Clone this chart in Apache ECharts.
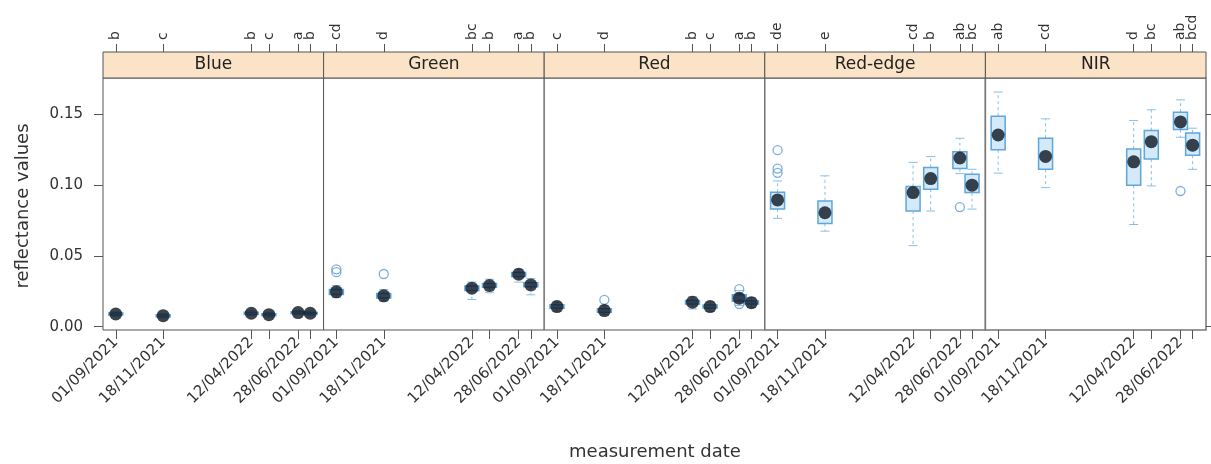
<!DOCTYPE html>
<html>
<head>
<meta charset="utf-8">
<script src="https://cdn.jsdelivr.net/npm/echarts@6/dist/echarts.min.js"></script>
<style>
  html, body { margin: 0; background: #fff; }
  #chart { width: 1211px; height: 464px; }
</style>
</head>
<body>
<div id="chart"></div>
<script>
// spectral bands (one panel each)
const bands = ["Blue", "Green", "Red", "Red-edge", "NIR"];
// measurement dates
const dates = ["2021-09-01", "2021-11-18", "2022-04-12", "2022-05-11", "2022-06-28", "2022-07-18"];
// dates that carry a bottom tick label
const labelledDates = ["2021-09-01", "2021-11-18", "2022-04-12", "2022-06-28"];
const yTicks = [0, 0.05, 0.1, 0.15];

// [lower whisker, Q1, median, Q3, upper whisker] per date
const blueStats = [
  [0.0075, 0.0083, 0.0090, 0.0096, 0.0104],
  [0.0062, 0.0071, 0.0078, 0.0084, 0.0092],
  [0.0078, 0.0088, 0.0095, 0.0102, 0.0112],
  [0.0068, 0.0079, 0.0085, 0.0091, 0.0100],
  [0.0085, 0.0094, 0.0100, 0.0106, 0.0115],
  [0.0080, 0.0089, 0.0095, 0.0101, 0.0110]
];
const greenStats = [
  [0.0205, 0.0228, 0.0246, 0.0262, 0.0290],
  [0.0180, 0.0203, 0.0218, 0.0235, 0.0262],
  [0.0192, 0.0255, 0.0272, 0.0288, 0.0315],
  [0.0240, 0.0278, 0.0290, 0.0305, 0.0335],
  [0.0315, 0.0355, 0.0370, 0.0382, 0.0405],
  [0.0225, 0.0282, 0.0295, 0.0310, 0.0340]
];
const redStats = [
  [0.0110, 0.0130, 0.0142, 0.0155, 0.0175],
  [0.0085, 0.0103, 0.0114, 0.0126, 0.0150],
  [0.0125, 0.0160, 0.0173, 0.0185, 0.0212],
  [0.0108, 0.0132, 0.0142, 0.0153, 0.0175],
  [0.0150, 0.0180, 0.0201, 0.0225, 0.0255],
  [0.0135, 0.0160, 0.0170, 0.0182, 0.0205]
];
const redEdgeStats = [
  [0.0764, 0.0830, 0.0894, 0.0948, 0.1028],
  [0.0674, 0.0728, 0.0804, 0.0887, 0.1064],
  [0.0572, 0.0816, 0.0946, 0.0989, 0.1159],
  [0.0816, 0.0970, 0.1045, 0.1123, 0.1200],
  [0.1080, 0.1116, 0.1190, 0.1234, 0.1329],
  [0.0830, 0.0946, 0.0998, 0.1076, 0.1110]
];
const nirStats = [
  [0.1083, 0.1248, 0.1352, 0.1485, 0.1655],
  [0.0981, 0.1111, 0.1201, 0.1329, 0.1466],
  [0.0721, 0.0998, 0.1163, 0.1253, 0.1454],
  [0.0993, 0.1182, 0.1305, 0.1383, 0.1530],
  [0.1336, 0.1390, 0.1444, 0.1513, 0.1600],
  [0.1110, 0.1210, 0.1280, 0.1366, 0.1400]
];

// outliers: [date index, value]
const blueOutliers = [];
const greenOutliers = [[0, 0.0385], [0, 0.0405], [1, 0.0372]];
const redOutliers = [[1, 0.0190], [4, 0.0265], [4, 0.0160]];
const redEdgeOutliers = [[0, 0.1245], [0, 0.1115], [0, 0.1085], [4, 0.0844]];
const nirOutliers = [[4, 0.0957]];

// significance letters above each date
const blueLetters = ["b", "c", "b", "c", "a", "b"];
const greenLetters = ["cd", "d", "bc", "b", "a", "b"];
const redLetters = ["c", "d", "b", "c", "a", "b"];
const redEdgeLetters = ["de", "e", "cd", "b", "ab", "bc"];
const nirLetters = ["ab", "cd", "d", "bc", "ab", "bcd"];

const stats = [blueStats, greenStats, redStats, redEdgeStats, nirStats];
const outliers = [blueOutliers, greenOutliers, redOutliers, redEdgeOutliers, nirOutliers];
const letters = [blueLetters, greenLetters, redLetters, redEdgeLetters, nirLetters];

// x positions are days since the first measurement date
const DAY = 86400000;
const ts = s => Date.UTC(+s.slice(0, 4), +s.slice(5, 7) - 1, +s.slice(8, 10));
const t0 = ts(dates[0]);
const dayOf = s => Math.round((ts(s) - t0) / DAY);
const pad = n => (n < 10 ? "0" : "") + n;
const fmtDay = v => {
  const d = new Date(t0 + v * DAY);
  return pad(d.getUTCDate()) + "/" + pad(d.getUTCMonth() + 1) + "/" + d.getUTCFullYear();
};
const dateX = dates.map(dayOf);
const labelX = labelledDates.map(dayOf);
const xMin = dayOf("2021-08-11");
const xMax = dayOf("2022-08-09");

const FONT = "DejaVu Sans, Verdana, sans-serif";
const PANEL_L = 103, PANEL_W = 220.6, PANEL_T = 78, PANEL_H = 252, STRIP_H = 26;
const BOX_W = 14, CAP_W = 9;
const boxStroke = "#5ea6dc", boxFill = "#d4eaf8", whiskColor = "#86bfe8";
const tickStyle = { color: "#555" };

const grids = [], xAxes = [], yAxes = [], series = [], graphics = [];

// letters above the strip; split over two axes so close neighbours are not dropped
function letterAxis(i, values, showTicks) {
  return {
    type: "value", gridIndex: i, min: xMin, max: xMax, position: "top", offset: STRIP_H,
    axisLine: { show: false, onZero: false }, splitLine: { show: false },
    axisTick: { show: showTicks, customValues: dateX, length: 8, lineStyle: tickStyle },
    axisLabel: {
      customValues: values, rotate: -90, margin: 12,
      showMinLabel: true, showMaxLabel: true,
      formatter: v => letters[i][dateX.indexOf(v)] || "",
      fontSize: 14, color: "#333", fontFamily: FONT
    }
  };
}

bands.forEach((band, i) => {
  const left = PANEL_L + i * PANEL_W;
  grids.push({
    left: left, top: PANEL_T, width: PANEL_W, height: PANEL_H,
    show: true, borderColor: i >= 3 ? "#777" : "#555", borderWidth: i >= 3 ? 1.5 : 1,
    backgroundColor: "#fff"
  });

  // bottom date axis
  xAxes.push({
    type: "value", gridIndex: i, min: xMin, max: xMax, position: "bottom",
    axisLine: { show: false, onZero: false }, splitLine: { show: false },
    axisTick: { show: true, customValues: dateX, length: 9, lineStyle: tickStyle },
    axisLabel: {
      customValues: labelX, rotate: 45, margin: 10, formatter: fmtDay,
      showMinLabel: true, showMaxLabel: true,
      fontSize: 15, color: "#333", fontFamily: FONT
    }
  });
  xAxes.push(letterAxis(i, dateX.filter((v, k) => k % 2 === 0), true));
  xAxes.push(letterAxis(i, dateX.filter((v, k) => k % 2 === 1), false));

  yAxes.push({
    type: "value", gridIndex: i, min: -0.0023, max: 0.1754,
    position: i === bands.length - 1 ? "right" : "left",
    splitLine: { show: false }, axisLine: { show: false, onZero: false },
    axisTick: {
      show: i === 0 || i === bands.length - 1, customValues: yTicks,
      length: 9, lineStyle: tickStyle
    },
    axisLabel: {
      show: i === 0, customValues: yTicks, margin: 20,
      formatter: v => v.toFixed(2), fontSize: 15, color: "#333", fontFamily: FONT
    }
  });

  const xIdx = i * 3;

  // boxes and whiskers
  series.push({
    type: "custom", xAxisIndex: xIdx, yAxisIndex: i,
    data: stats[i].map((s, k) => [dateX[k]].concat(s)),
    renderItem: (params, api) => {
      const x = api.value(0);
      const lo = api.coord([x, api.value(1)]);
      const q1 = api.coord([x, api.value(2)]);
      const q3 = api.coord([x, api.value(4)]);
      const hi = api.coord([x, api.value(5)]);
      const cx = lo[0];
      const dashed = { stroke: whiskColor, lineWidth: 1, lineDash: [3, 3] };
      const solid = { stroke: whiskColor, lineWidth: 1 };
      return {
        type: "group",
        children: [
          { type: "line", shape: { x1: cx, y1: q3[1], x2: cx, y2: hi[1] }, style: dashed },
          { type: "line", shape: { x1: cx, y1: q1[1], x2: cx, y2: lo[1] }, style: dashed },
          { type: "line", shape: { x1: cx - CAP_W / 2, y1: hi[1], x2: cx + CAP_W / 2, y2: hi[1] }, style: solid },
          { type: "line", shape: { x1: cx - CAP_W / 2, y1: lo[1], x2: cx + CAP_W / 2, y2: lo[1] }, style: solid },
          {
            type: "rect",
            shape: { x: cx - BOX_W / 2, y: q3[1], width: BOX_W, height: q1[1] - q3[1] },
            style: { fill: boxFill, stroke: boxStroke, lineWidth: 1.5 }
          }
        ]
      };
    },
    z: 2
  });

  // medians
  series.push({
    type: "scatter", xAxisIndex: xIdx, yAxisIndex: i,
    data: stats[i].map((s, k) => [dateX[k], s[2]]),
    symbol: "circle", symbolSize: 13,
    itemStyle: { color: "#0c1522" }, z: 4
  });

  // outliers
  series.push({
    type: "scatter", xAxisIndex: xIdx, yAxisIndex: i,
    data: outliers[i].map(o => [dateX[o[0]], o[1]]),
    symbol: "circle", symbolSize: 9,
    itemStyle: { color: "rgba(255,255,255,0)", borderColor: "#5b9bd8", borderWidth: 1.3 }, z: 3
  });

  // strip with panel title
  graphics.push({
    type: "rect",
    shape: { x: left, y: PANEL_T - STRIP_H, width: PANEL_W, height: STRIP_H },
    style: { fill: "#fbe3c8", stroke: "#555", lineWidth: 1 }
  });
  graphics.push({
    type: "text", x: left + PANEL_W / 2, y: PANEL_T - STRIP_H / 2,
    style: { text: band, fill: "#222", font: "17px " + FONT, textAlign: "center", textVerticalAlign: "middle" }
  });
});

graphics.push({
  type: "text", x: 655, y: 452,
  style: { text: "measurement date", fill: "#333", font: "18px " + FONT, textAlign: "center", textVerticalAlign: "middle" }
});
graphics.push({
  type: "text", x: 23, y: 206, rotation: Math.PI / 2,
  style: { text: "reflectance values", fill: "#333", font: "18px " + FONT, textAlign: "center", textVerticalAlign: "middle" }
});

const chart = echarts.init(document.getElementById("chart"));
chart.setOption({
  animation: false,
  grid: grids,
  xAxis: xAxes,
  yAxis: yAxes,
  series: series,
  graphic: graphics
});
</script>
</body>
</html>
